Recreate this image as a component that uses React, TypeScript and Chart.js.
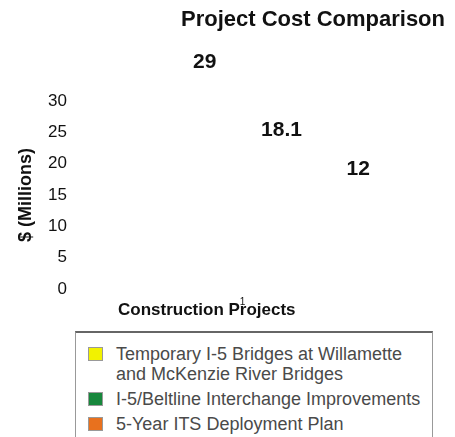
import React, { useEffect, useRef } from "react";
import { Chart, registerables } from "chart.js";

Chart.register(...registerables);

const categories = ["1"];
const seriesNames = [
  "Temporary I-5 Bridges at Willamette and McKenzie River Bridges",
  "I-5/Beltline Interchange Improvements",
  "5-Year ITS Deployment Plan",
];
const seriesValues = [29, 18.1, 12];
const seriesColors = ["#f2f200", "#17873c", "#e8711e"];
const legendLines = [
  ["Temporary I-5 Bridges at Willamette", "and McKenzie River Bridges"],
  ["I-5/Beltline Interchange Improvements"],
  ["5-Year ITS Deployment Plan"],
];
const yTicks = [0, 5, 10, 15, 20, 25, 30];

const FONT = "'Liberation Sans', Arial, Helvetica, sans-serif";

const valueLabels = {
  id: "valueLabels",
  afterDatasetsDraw(chart: any) {
    const ctx = chart.ctx;
    const yScale = chart.scales.y;
    ctx.save();
    ctx.font = `bold 21px ${FONT}`;
    ctx.fillStyle = "#111";
    ctx.textAlign = "center";
    ctx.textBaseline = "middle";
    chart.data.datasets.forEach((ds: any, i: number) => {
      const meta = chart.getDatasetMeta(i);
      const bar = meta.data[0];
      const v = ds.data[0];
      const y = yScale.getPixelForValue(v) - 45;
      ctx.fillText(String(v), bar.x, y);
    });
    ctx.restore();
  },
};

function App() {
  const ref = useRef<HTMLCanvasElement | null>(null);
  useEffect(() => {
    if (!ref.current) return;
    const chart = new Chart(ref.current, {
      type: "bar",
      data: {
        labels: categories,
        datasets: seriesValues.map((v, i) => ({
          label: seriesNames[i],
          data: [v],
          backgroundColor: "rgba(0,0,0,0)",
          borderWidth: 0,
          categoryPercentage: 0.704,
          barPercentage: 0.8,
        })),
      },
      options: {
        animation: false,
        responsive: false,
        layout: { padding: { left: 4, right: 2, top: 0, bottom: 5 } },
        plugins: {
          legend: { display: false },
          tooltip: { enabled: false },
          title: {
            display: true,
            text: "Project Cost Comparison",
            align: "end",
            color: "#111",
            font: { family: FONT, size: 22, weight: "bold" },
            padding: { top: -1, bottom: 67.6 },
          },
        },
        scales: {
          x: {
            grid: { display: false, drawTicks: false },
            border: { display: false },
            ticks: {
              color: "#111",
              font: { family: FONT, size: 10 },
              padding: 7,
              labelOffset: -39,
            },
            title: {
              display: true,
              text: "Construction Projects",
              align: "start",
              color: "#111",
              font: { family: FONT, size: 17, weight: "bold" },
              padding: { top: -14.4, bottom: 0 },
            },
          },
          y: {
            min: 0,
            max: 30,
            grid: { display: false, drawTicks: false },
            border: { display: false },
            afterFit: (scale: any) => {
              scale.width = 106;
              scale.paddingTop = 10;
              scale.paddingBottom = 10;
            },
            afterBuildTicks: (scale: any) => {
              scale.ticks = yTicks.map((v) => ({ value: v }));
            },
            ticks: {
              color: "#111",
              font: { family: FONT, size: 17 },
              padding: 51,
            },
            title: {
              display: true,
              text: "$ (Millions)",
              color: "#111",
              font: { family: FONT, size: 18, weight: "bold" },
              padding: { top: 3, bottom: 0 },
            },
          },
        },
      },
      plugins: [valueLabels],
    });
    return () => chart.destroy();
  }, []);

  return (
    <div style={{ fontFamily: FONT }}>
      <canvas ref={ref} width={439} height={318} style={{ display: "block" }} />
      <div
        style={{
          marginLeft: 67,
          marginTop: 5,
          width: 358,
          height: 120,
          borderTop: "2px solid #666",
          borderLeft: "1px solid #999",
          borderRight: "1px solid #999",
          boxSizing: "border-box",
          padding: "11px 0 0 12px",
          color: "#4a4a4a",
          fontSize: 18,
        }}
      >
        {legendLines.map((lines, i) => (
          <div key={i} style={{ display: "flex", alignItems: "flex-start", marginBottom: 5 }}>
            <span
              style={{
                display: "inline-block",
                width: 15,
                height: 14,
                background: seriesColors[i],
                border: "1px solid #999",
                boxSizing: "border-box",
                marginTop: 3,
                marginRight: 13,
                flex: "none",
              }}
            />
            <span style={{ lineHeight: "20px" }}>
              {lines.map((l, j) => (
                <div key={j}>{l}</div>
              ))}
            </span>
          </div>
        ))}
      </div>
    </div>
  );
}

export default App;
